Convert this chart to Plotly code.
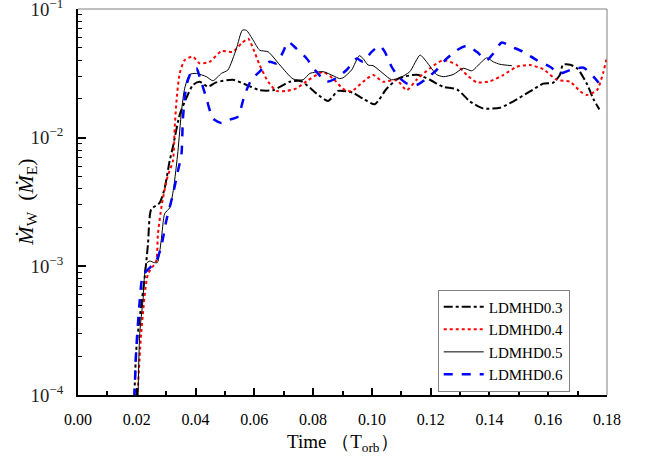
import plotly.graph_objects as go

# ---- data ----
t03 = [0.0188, 0.0198, 0.0210, 0.0227, 0.0238, 0.0249, 0.0278, 0.0295, 0.0312, 0.0323, 0.0346, 0.0369,
       0.0391, 0.0414, 0.0442, 0.0470, 0.0527, 0.0579, 0.0618, 0.0664, 0.0720, 0.0760, 0.0811, 0.0851,
       0.0885, 0.0935, 0.0970, 0.1010, 0.1050, 0.1090, 0.1153, 0.1197, 0.1242, 0.1290, 0.1334, 0.1378,
       0.1436, 0.1480, 0.1538, 0.1583, 0.1617, 0.1640, 0.1650, 0.1675, 0.1700, 0.1733, 0.1753, 0.1774]
m03 = [5e-5, 0.00022, 0.00040, 0.00082, 0.00148, 0.00277, 0.00312, 0.00407, 0.00661, 0.0085, 0.0151, 0.0204,
       0.0257, 0.0272, 0.0249, 0.0269, 0.0282, 0.0254, 0.0234, 0.0234, 0.0272, 0.0275, 0.0221, 0.0193,
       0.0231, 0.0224, 0.0201, 0.0182, 0.0240, 0.0288, 0.0309, 0.0282, 0.0249, 0.0237, 0.0191, 0.0169,
       0.0171, 0.0191, 0.0229, 0.0263, 0.0268, 0.0309, 0.0369, 0.0369, 0.0344, 0.0258, 0.0201, 0.0166]

t04 = [0.0196, 0.0215, 0.0238, 0.0266, 0.0272, 0.0285, 0.0305, 0.0323, 0.0329, 0.0335, 0.0346, 0.0363,
       0.0391, 0.0414, 0.0448, 0.0488, 0.0527, 0.0556, 0.0579, 0.0596, 0.0618, 0.0647, 0.0675, 0.0709,
       0.0743, 0.0778, 0.0834, 0.0868, 0.0902, 0.0930, 0.0970, 0.1004, 0.1038, 0.1084, 0.1118, 0.1152,
       0.1198, 0.1243, 0.1289, 0.1323, 0.1357, 0.1402, 0.1447, 0.1493, 0.1538, 0.1584, 0.1629, 0.1675,
       0.1709, 0.1731, 0.1766, 0.1788, 0.1800]
m04 = [5e-5, 0.00030, 0.00087, 0.00110, 0.00178, 0.0030, 0.0050, 0.0066, 0.0119, 0.0191, 0.0316, 0.0401,
       0.0427, 0.0378, 0.0389, 0.0471, 0.0465, 0.0540, 0.0589, 0.0493, 0.0367, 0.0272, 0.0231, 0.0231,
       0.0242, 0.0275, 0.0324, 0.0288, 0.0240, 0.0229, 0.0272, 0.0307, 0.0272, 0.0282, 0.0234, 0.0282,
       0.0347, 0.0401, 0.0367, 0.0307, 0.0269, 0.0275, 0.0307, 0.0356, 0.0367, 0.0340, 0.0282, 0.0272,
       0.0229, 0.0215, 0.0234, 0.0326, 0.0427]

t05 = [0.0202, 0.0210, 0.0221, 0.0232, 0.0245, 0.0258, 0.0270, 0.0283, 0.0295, 0.0312, 0.0325, 0.0340,
       0.0352, 0.0363, 0.0380, 0.0403, 0.0437, 0.0459, 0.0488, 0.0510, 0.0539, 0.0559, 0.0573, 0.0596,
       0.0618, 0.0647, 0.0687, 0.0732, 0.0766, 0.0789, 0.0834, 0.0868, 0.0890, 0.0902, 0.0931, 0.0957,
       0.0970, 0.0987, 0.1004, 0.1038, 0.1067, 0.1095, 0.1129, 0.1164, 0.1186, 0.1220, 0.1243, 0.1277,
       0.1311, 0.1340, 0.1368, 0.1391, 0.1413, 0.1436, 0.1476]
m05 = [5e-5, 0.00030, 0.00054, 0.00105, 0.00110, 0.00107, 0.00107, 0.00158, 0.00257, 0.00285, 0.0040, 0.0078,
       0.0160, 0.0242, 0.0310, 0.0316, 0.0298, 0.0277, 0.0316, 0.0336, 0.0493, 0.0684, 0.0684, 0.0573,
       0.0479, 0.0465, 0.0367, 0.0286, 0.0282, 0.0316, 0.0326, 0.0303, 0.0288, 0.0292, 0.0336, 0.0434,
       0.0413, 0.0367, 0.0363, 0.0316, 0.0282, 0.0292, 0.0326, 0.0439, 0.0389, 0.0310, 0.0298, 0.0310,
       0.0347, 0.0331, 0.0378, 0.0418, 0.0389, 0.0372, 0.0363]

t06 = [0.0188, 0.0198, 0.0210, 0.0221, 0.0266, 0.0283, 0.0300, 0.0323, 0.0340, 0.0352, 0.0357, 0.0369,
       0.0386, 0.0403, 0.0414, 0.0437, 0.0459, 0.0488, 0.0516, 0.0544, 0.0567, 0.0590, 0.0618, 0.0652,
       0.0675, 0.0698, 0.0715, 0.0743, 0.0778, 0.0811, 0.0846, 0.0880, 0.0914, 0.0948, 0.0970, 0.0999,
       0.1027, 0.1044, 0.1067, 0.1090, 0.1118, 0.1152, 0.1186, 0.1220, 0.1255, 0.1289, 0.1323, 0.1357,
       0.1391, 0.1413, 0.1442, 0.1476, 0.1515, 0.1561, 0.1606, 0.1640, 0.1675, 0.1720, 0.1754, 0.1788]
m06 = [5e-5, 0.00022, 0.00054, 0.00085, 0.00110, 0.00141, 0.00224, 0.00363, 0.0055, 0.0074, 0.0141, 0.0257,
       0.0326, 0.0347, 0.0298, 0.0202, 0.0141, 0.0130, 0.0138, 0.0146, 0.0215, 0.0282, 0.0326, 0.0389,
       0.0378, 0.0465, 0.0556, 0.0493, 0.0413, 0.0326, 0.0272, 0.0292, 0.0336, 0.0413, 0.0389, 0.0465,
       0.0518, 0.0465, 0.0356, 0.0298, 0.0264, 0.0257, 0.0288, 0.0336, 0.0413, 0.0479, 0.0518, 0.0465,
       0.0401, 0.0451, 0.0550, 0.0508, 0.0465, 0.0401, 0.0356, 0.0316, 0.0336, 0.0350, 0.0298, 0.0240]

names = ["LDMHD0.3", "LDMHD0.4", "LDMHD0.5", "LDMHD0.6"]
x_ticks = [0.00, 0.02, 0.04, 0.06, 0.08, 0.10, 0.12, 0.14, 0.16, 0.18]
x_title = "Time （T<sub>orb</sub>）"
y_title = "<i>Ṁ</i><sub>W</sub>  (<i>Ṁ</i><sub>E</sub>)"

series = [(t03, m03), (t04, m04), (t05, m05), (t06, m06)]
styles = [
    dict(color="black", width=2, dash="dashdot"),
    dict(color="#ff0000", width=2, dash="dot"),
    dict(color="black", width=1, dash="solid"),
    dict(color="#0000ff", width=2.5, dash="dash"),
]

fig = go.Figure()
for (t, m), nm, st in zip(series, names, styles):
    fig.add_trace(go.Scatter(x=t, y=m, mode="lines", name=nm,
                             line=dict(shape="spline", smoothing=0.6, **st)))

serif = "Liberation Serif"

fig.update_layout(
    width=654, height=460,
    margin=dict(l=78, r=47, t=9, b=65, autoexpand=False),
    plot_bgcolor="white", paper_bgcolor="white",
    showlegend=True,
    legend=dict(x=0.68, y=0.273, xanchor="left", yanchor="top",
                bordercolor="#808080", borderwidth=1, bgcolor="white",
                font=dict(family=serif, size=15, color="black"),
                tracegroupgap=0, itemwidth=40),
    xaxis=dict(range=[0, 0.18], tickvals=x_ticks, tickformat=".2f",
               ticks="inside", ticklen=7, tickwidth=1.5, tickcolor="black",
               minor=dict(dtick=0.01, ticks="inside", ticklen=4, tickcolor="black", tickwidth=1.5),
               showline=True, linecolor="black", linewidth=1.5,
               showgrid=False, zeroline=False, automargin=False,
               ticklabelstandoff=9, ticklabeloverflow="allow",
               tickfont=dict(family=serif, size=16, color="black")),
    yaxis=dict(type="log", range=[-4.0005, -0.9995], dtick=1, exponentformat="power",
               ticks="inside", ticklen=8, tickwidth=1.5, tickcolor="black",
               minor=dict(dtick="D1", ticks="inside", ticklen=4, tickcolor="black", tickwidth=1.2),
               showline=True, linecolor="black", linewidth=1.5,
               showgrid=False, zeroline=False, automargin=False,
               ticklabelstandoff=10, ticklabeloverflow="allow",
               tickfont=dict(family=serif, size=15, color="#222")),
    annotations=[
        dict(text=x_title, xref="paper", yref="paper", x=0.5, y=-0.125,
             xanchor="center", yanchor="middle", showarrow=False,
             font=dict(family=serif, size=19, color="black")),
        dict(text=y_title, xref="paper", yref="paper", x=-0.097, y=0.5,
             xanchor="center", yanchor="middle", showarrow=False, textangle=-90,
             font=dict(family=serif, size=22, color="black")),
    ],
    shapes=[
        dict(type="line", xref="paper", yref="paper", x0=0, x1=1, y0=1, y1=1,
             line=dict(color="#808080", width=1)),
        dict(type="line", xref="paper", yref="paper", x0=1, x1=1, y0=0, y1=1,
             line=dict(color="#808080", width=1)),
    ],
)

fig.write_html("out.html", config={"displayModeBar": False},
               post_script="document.body.style.margin='0';")
